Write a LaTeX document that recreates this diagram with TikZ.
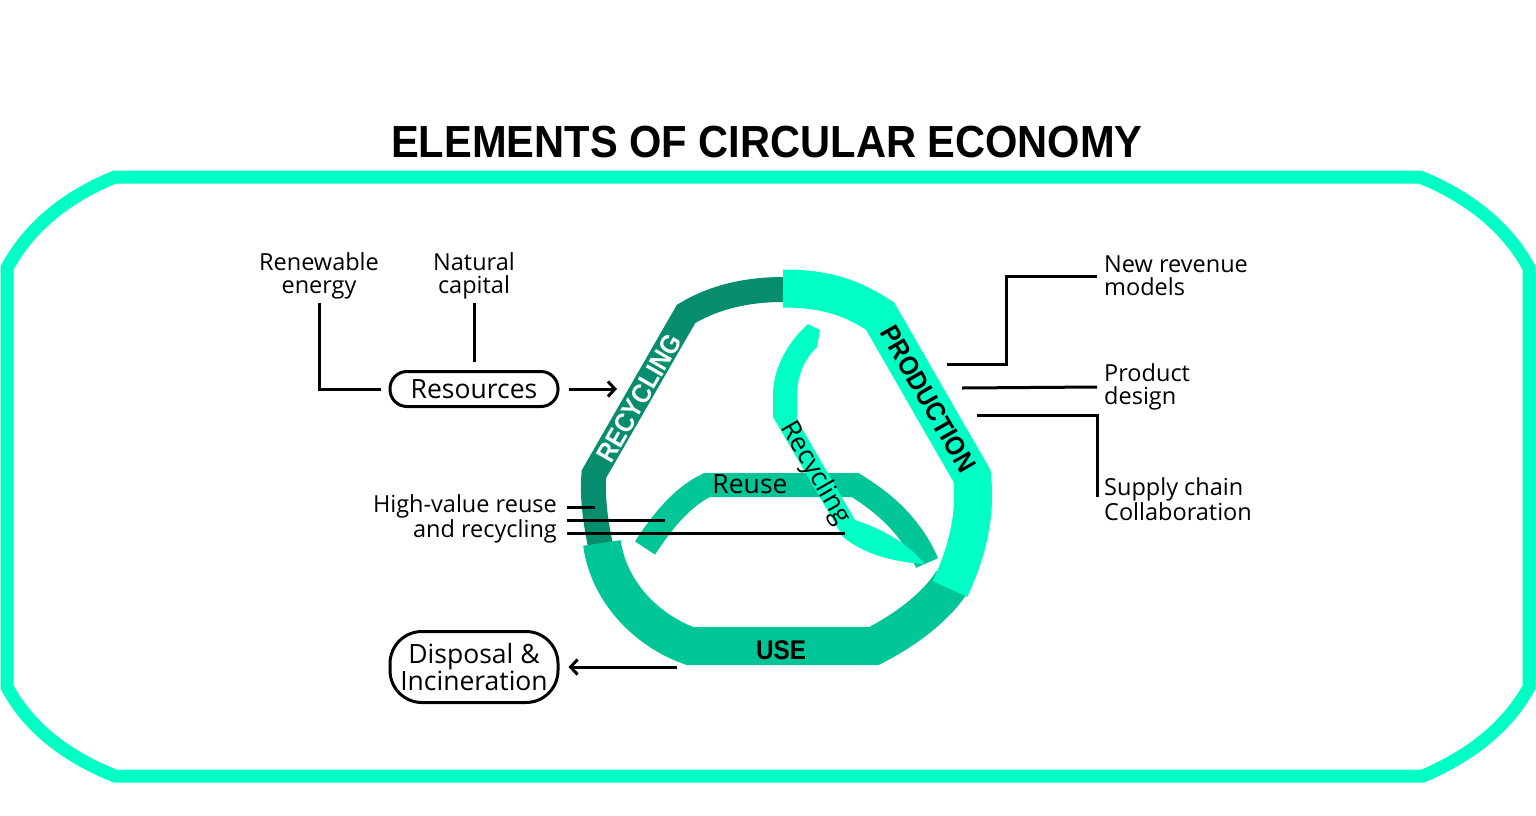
\documentclass[tikz,border=0pt]{standalone}
\usepackage{fontspec}
\setmainfont{Open Sans}
\newfontfamily\headfont{Liberation Sans}
\usetikzlibrary{arrows.meta,calc}
\definecolor{aqua}{HTML}{00FFC4}
\definecolor{dkg}{HTML}{058D6D}
\definecolor{mdg}{HTML}{00C597}
\begin{document}
\begin{tikzpicture}[x=1pt,y=-1pt,
  band/.style={line width=#1,line cap=butt,line join=miter},
  lbl/.style={font=\fontsize{23.5}{23}\selectfont,inner sep=0pt,align=center},
  blbl/.style={font=\fontsize{26.5}{26}\selectfont,inner sep=0pt},
  conn/.style={line width=3pt},
  arr/.style={conn,-{Straight Barb[length=7pt,width=15pt,line width=3pt]}},
  pill/.style={draw,line width=3pt,rounded corners=#1,minimum width=168pt,inner sep=0pt,align=center,font=\fontsize{26.5}{25}\selectfont},
  caps/.style={font=\headfont\bfseries\fontsize{27}{27}\selectfont,inner sep=0pt}
]
\useasboundingbox (0,0) rectangle (1536,815);
% frame
\draw[aqua,line width=13pt,line join=miter] (115,177) -- (1420,177)
  .. controls (1465,195) and (1506,225) .. (1529,268) -- (1529,687)
  .. controls (1506,730) and (1465,758) .. (1423,776) -- (115,776)
  .. controls (70,758) and (30,730) .. (7,687) -- (7,268)
  .. controls (30,225) and (70,195) .. (115,177) -- cycle;
% title
\node[font=\headfont\bfseries\fontsize{45}{45}\selectfont,inner sep=0pt] (title) at (767,142) {\scalebox{0.925}[1]{ELEMENTS OF CIRCULAR ECONOMY}};
% bands
\draw[band=25pt,dkg] (783,289.5) .. controls (745,289.5) and (712,298) .. (686,314) -- (594,474) .. controls (592,495) and (595,520) .. (601,548);
\draw[band=38pt,mdg] (602,543) .. controls (608,590) and (645,630) .. (690,646) -- (874,646) .. controls (905,630) and (935,608) .. (952,582);
\draw[band=38pt,aqua] (783,288.5) .. controls (830,288.5) and (855,300) .. (880,316) -- (972,476) .. controls (976,515) and (968,550) .. (950,589);
\draw[band=24pt,mdg] (645,548) .. controls (660,525) and (680,498) .. (707,485) -- (855,485) .. controls (888,505) and (913,530) .. (927,563);
\fill[aqua] (808,324) .. controls (788,342) and (773,368) .. (773,395) -- (773,417) -- (843,537)
  .. controls (865,555) and (895,562) .. (924,564)
  .. controls (910,545) and (885,530) .. (855,520) -- (797,420) -- (797,395)
  .. controls (797,372) and (808,355) .. (817,347) -- (820,330) -- cycle;
% band texts
\node[caps,text=white,rotate=60] (trec) at (639,398) {\scalebox{0.9}[1]{RECYCLING}};
\node[caps,rotate=-60] (tprod) at (928,399) {\scalebox{0.9}[1]{PRODUCTION}};
\node[caps] (tuse) at (781,650) {\scalebox{0.9}[1]{USE}};
\node[blbl] (treuse) at (750,484) {Reuse};
\node[blbl,rotate=-60] (trecyc) at (815,473) {Recycling};
% left top
\node[lbl] (ren) at (319,276) {Renewable\\energy};
\node[lbl] (nat) at (474,276) {Natural\\capital};
\node[pill=17pt,minimum height=35pt] (res) at (474,389) {Resources};
\coordinate (resarr) at (617,389);
\draw[conn] (319,303) |- ([xshift=-8pt]res.west);
\draw[conn] (474,303) -- ([yshift=8pt]res.north);
\draw[arr] ([xshift=9pt]res.east) -- (resarr);
% right labels
\node[lbl,align=left,anchor=west] (nrm) at (1104,276) {New revenue\\models};
\node[lbl,align=left,anchor=west] (pd) at (1104,387) {Product\\design};
\node[lbl,align=left,anchor=west] (sc) at (1104,499) {Supply chain\\Collaboration};
\coordinate (c1) at (947,364);
\coordinate (c2) at (962,388);
\coordinate (c3) at (977,415);
\draw[conn] (c1) -- (1006,364) |- ([xshift=-7pt]nrm.west);
\draw[conn] (c2) -- ([xshift=-7pt]pd.west);
\draw[conn] (c3) -| ([xshift=-7pt,yshift=2pt]sc.west);
% left lower
\node[lbl,align=right,anchor=east] (hv) at (557,519) {High-value reuse\\and recycling};
\coordinate (h1) at (595,507);
\coordinate (h2) at (665,520);
\coordinate (h3) at (845,533);
\draw[conn] ([xshift=10pt,yshift=12pt]hv.east) -- (h1);
\draw[conn] ([xshift=10pt,yshift=-1pt]hv.east) -- (h2);
\draw[conn] ([xshift=10pt,yshift=-14pt]hv.east) -- (h3);
\node[pill=32pt,minimum height=71pt] (disp) at (474,667) {Disposal \&\\Incineration};
\coordinate (dstart) at (677,667);
\draw[arr] (dstart) -- ([xshift=9pt]disp.east);
\end{tikzpicture}
\end{document}
